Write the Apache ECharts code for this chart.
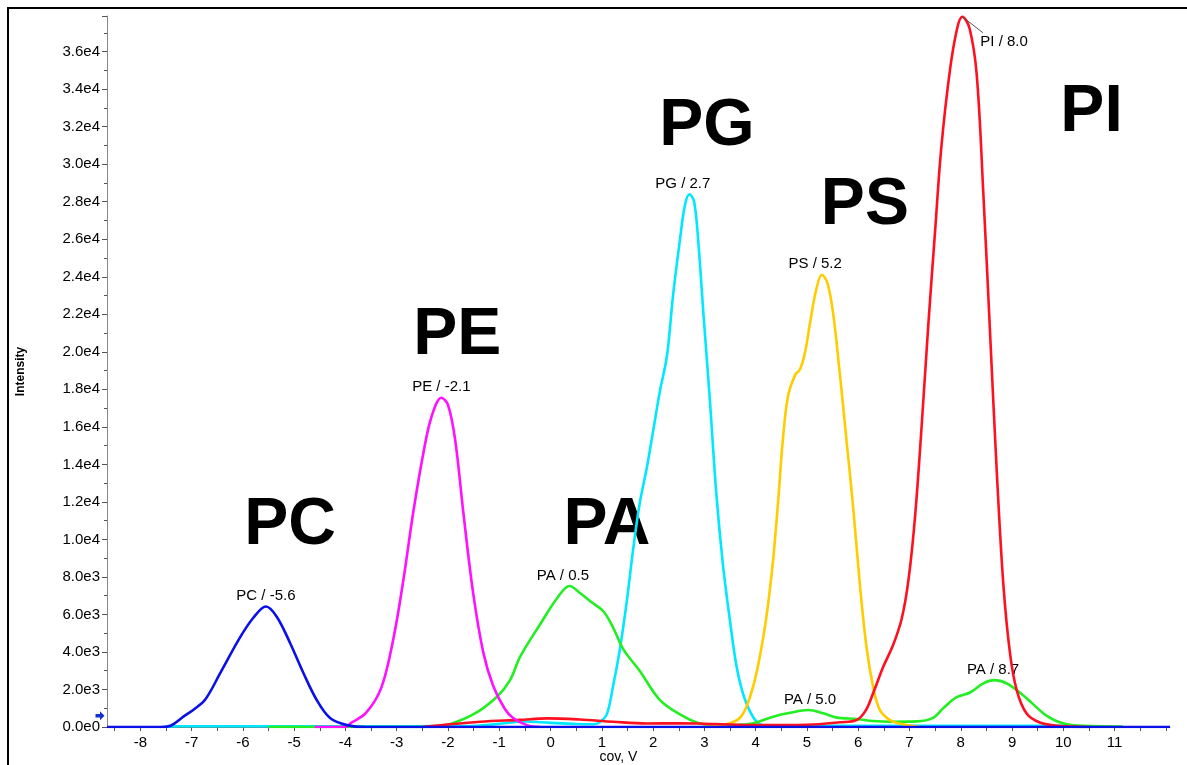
<!DOCTYPE html>
<html>
<head>
<meta charset="utf-8">
<title>Intensity vs CoV</title>
<script src="https://cdn.jsdelivr.net/npm/echarts@6.0.0/dist/echarts.min.js"></script>
<style>
	html, body { margin: 0; padding: 0; background: #fff; }
	#chart { width: 1187px; height: 765px; }
</style>
</head>
<body>
<div id="chart"></div>
<script>
// axis extents (CoV, V / intensity)
var xMin = -8.65, xMax = 12.08;
var yMax = 37900;
var xTickLabels = [-8, -7, -6, -5, -4, -3, -2, -1, 0, 1, 2, 3, 4, 5, 6, 7, 8, 9, 10, 11];

// traces, [cov, intensity]
var pcData = [[-8.65,0],[-7.6,0],[-7.4,80],[-7.16,550],[-6.95,950],[-6.73,1480],[-6.44,2880],[-6.05,4800],[-5.8,5810],[-5.55,6420],[-5.34,5880],[-5.08,4480],[-4.82,2880],[-4.56,1440],[-4.3,480],[-3.97,100],[-3.6,0],[-3.0,0],[0,0],[4,0],[8,0],[12.08,0]];
var peData = [[-4.6,0],[-4.0,0],[-3.9,200],[-3.6,750],[-3.3,2100],[-3.07,4640],[-2.87,7840],[-2.68,11410],[-2.48,14610],[-2.32,16550],[-2.13,17550],[-2.0,17170],[-1.86,15300],[-1.7,11410],[-1.51,7150],[-1.31,3950],[-1.12,2200],[-0.9,1000],[-0.73,480],[-0.46,100],[-0.2,0]];
var paData = [[-5.5,0],[-2.3,0],[-2.02,100],[-1.5,680],[-1.05,1600],[-0.79,2500],[-0.59,3760],[-0.2,5490],[0.12,6840],[0.37,7520],[0.58,7130],[0.8,6650],[1.03,6170],[1.22,5300],[1.42,4140],[1.74,2990],[2.13,1450],[2.52,680],[2.91,190],[3.36,100],[3.7,120],[3.95,200],[4.34,550],[4.67,760],[5.03,907],[5.32,730],[5.58,500],[5.97,430],[6.29,320],[6.62,280],[7.14,300],[7.46,490],[7.65,980],[7.92,1590],[8.18,1840],[8.44,2330],[8.66,2500],[8.89,2330],[9.15,1840],[9.41,1220],[9.67,610],[9.99,200],[10.4,60],[11.16,30]];
var pgData = [[-7.5,0],[-7.3,40],[-4,40],[-1.5,60],[-0.9,200],[-0.5,290],[0,220],[0.5,160],[0.85,150],[0.96,250],[1.1,700],[1.22,2200],[1.35,4110],[1.49,6780],[1.61,9460],[1.74,11950],[1.88,13860],[2.0,15770],[2.13,17870],[2.27,19790],[2.39,23040],[2.52,25900],[2.62,27810],[2.71,28400],[2.8,28000],[2.88,25900],[2.98,22080],[3.11,17300],[3.23,12520],[3.36,8700],[3.5,5640],[3.62,3340],[3.75,1810],[3.92,670],[4.08,150],[4.3,60],[10,60],[10.5,0]];
var psData = [[3.0,0],[3.24,60],[3.5,200],[3.69,480],[3.82,1080],[3.95,2150],[4.08,3750],[4.21,5880],[4.34,8910],[4.44,12110],[4.53,15310],[4.63,17620],[4.77,18770],[4.86,19040],[4.96,19930],[5.06,21530],[5.18,23310],[5.29,24110],[5.4,23660],[5.51,22060],[5.64,18860],[5.77,15310],[5.9,11750],[6.03,7660],[6.16,4280],[6.29,2150],[6.42,910],[6.62,370],[6.87,150],[7.2,0]];
var piData = [[-2.5,0],[-2.2,80],[-1.37,280],[-0.6,380],[-0.07,460],[0.57,400],[1.22,280],[1.88,190],[2.52,200],[3.2,160],[4.0,100],[5.0,120],[5.64,250],[5.97,373],[6.15,900],[6.29,1800],[6.49,3220],[6.68,4370],[6.85,5800],[6.98,7840],[7.11,11270],[7.24,16180],[7.37,21570],[7.5,26470],[7.62,30880],[7.79,35040],[7.93,37250],[8.03,37860],[8.17,37250],[8.31,34800],[8.44,28430],[8.57,21070],[8.7,13710],[8.83,7600],[8.96,3920],[9.09,1970],[9.28,735],[9.54,240],[9.9,60],[10.5,0]];

// small peak annotations
var peakNames = ['PC / -5.6', 'PE / -2.1', 'PA / 0.5', 'PG / 2.7', 'PS / 5.2', 'PA / 5.0', 'PA / 8.7'];
var peakX = [-5.55, -2.13, 0.24, 2.58, 5.16, 5.06, 8.63];
var peakY = [6420, 17550, 7520, 28400, 24110, 907, 2500];
var piName = 'PI / 8.0';
var piPeak = [8.03, 37860];
var piLeaderEnd = [8.43, 37010];

// big class labels
var classNames = ['PC', 'PE', 'PA', 'PG', 'PS', 'PI'];
var classX = [-5.08, -1.82, 1.10, 3.05, 6.13, 10.55];
var classY = [10700, 20850, 10700, 32000, 27800, 32750];

var font = "'Liberation Sans', Arial, sans-serif";

var xTicks = [];
for (var t = -8.5; t <= 12; t += 0.5) xTicks.push(t);

function line(name, data, color) {
	return {
		name: name,
		type: 'line',
		data: data,
		smooth: 0.35,
		symbol: 'none',
		clip: true,
		lineStyle: { color: color, width: 2.6 },
		itemStyle: { color: color }
	};
}

var peakPoints = peakNames.map(function (n, i) {
	return { name: n, value: [peakX[i], peakY[i]] };
});
var classPoints = classNames.map(function (n, i) {
	return { name: n, value: [classX[i], classY[i]] };
});

var redSeries = line('PI', piData, '#ff1020');
redSeries.markLine = {
	silent: true,
	symbol: 'none',
	label: { show: false },
	lineStyle: { color: '#555', width: 1, type: 'solid' },
	data: [[{ coord: piPeak }, { coord: piLeaderEnd }]]
};

var blueSeries = line('PC', pcData, '#0a10e8');
blueSeries.markPoint = {
	silent: true,
	symbol: 'path://M0,3 L5,3 L5,0 L10,5 L5,10 L5,7 L0,7 Z',
	symbolSize: [9, 9],
	symbolOffset: [-7, 0],
	itemStyle: { color: '#1030d0' },
	label: { show: false },
	data: [{ coord: [xMin, 600] }]
};

function textLayer(data, label) {
	return {
		type: 'scatter',
		symbolSize: 0,
		silent: true,
		itemStyle: { opacity: 1 },
		data: data,
		label: Object.assign({ show: true, formatter: '{b}', color: '#000', fontFamily: font }, label)
	};
}

var option = {
	animation: false,
	backgroundColor: '#fff',
	textStyle: { fontFamily: font },
	grid: { left: 107, right: 17, top: 16, bottom: 38, containLabel: false, outerBoundsMode: 'none' },
	graphic: [{
		type: 'rect',
		shape: { x: 8, y: 8, width: 1300, height: 900 },
		style: { fill: 'none', stroke: '#000', lineWidth: 2 },
		silent: true
	}],
	xAxis: {
		type: 'value',
		min: xMin,
		max: xMax,
		name: 'cov, V',
		nameLocation: 'middle',
		nameGap: 23,
		nameMoveOverlap: false,
		nameTextStyle: { color: '#000', fontSize: 14, fontFamily: font, padding: [0, 40, 0, 0] },
		axisLine: { show: true, onZero: false, lineStyle: { color: '#777', width: 1 } },
		axisTick: { show: true, customValues: xTicks, length: 4, lineStyle: { color: '#555' } },
		axisLabel: { customValues: xTickLabels, color: '#000', fontSize: 15, margin: 8, fontFamily: font },
		splitLine: { show: false }
	},
	yAxis: {
		type: 'value',
		min: 0,
		max: yMax,
		interval: 2000,
		name: 'Intensity',
		nameLocation: 'middle',
		nameGap: 80,
		nameMoveOverlap: false,
		nameTextStyle: { color: '#000', fontSize: 12, fontWeight: 'bold', fontFamily: font },
		axisLine: { show: true, onZero: false, lineStyle: { color: '#888', width: 1 } },
		axisTick: { show: true, length: 5, lineStyle: { color: '#555' } },
		minorTick: { show: true, splitNumber: 2, length: 3, lineStyle: { color: '#555' } },
		axisLabel: {
			color: '#000',
			fontSize: 15,
			margin: 7,
			fontFamily: font,
			showMaxLabel: false,
			formatter: function (v) {
				if (v > 36000) return '';
				return v.toExponential(1).replace('+', '');
			}
		},
		splitLine: { show: false }
	},
	series: [
		line('PG', pgData, '#00e8ff'),
		line('PA', paData, '#22ee22'),
		line('PS', psData, '#ffcc00'),
		redSeries,
		line('PE', peData, '#ff10ff'),
		blueSeries,
		textLayer(peakPoints, { position: 'top', distance: 3, fontSize: 15 }),
		textLayer([{ name: piName, value: piPeak }], { position: 'right', distance: 0, offset: [18, 25], fontSize: 15 }),
		textLayer(classPoints, { position: 'inside', fontSize: 66, fontWeight: 'bold' })
	]
};

var myChart = echarts.init(document.getElementById('chart'));
myChart.setOption(option);
</script>
</body>
</html>
